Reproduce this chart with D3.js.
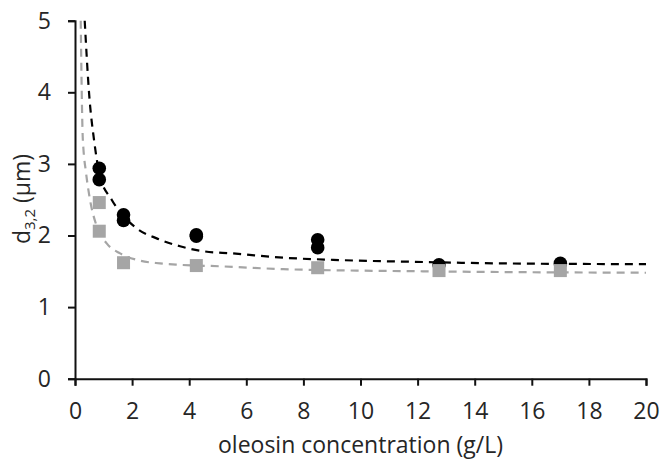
<!DOCTYPE html>
<html lang="en">
<head>
    <meta charset="UTF-8">
    <title>d32 vs oleosin</title>
    <style>
        body { margin: 0; background: #fff; }
        svg text { font-family: "Open Sans", "Noto Sans", sans-serif; fill: #262626; }
    </style>
</head>
<body>
<div id="container"></div>
<script src="https://cdn.jsdelivr.net/npm/d3@7"></script>
<script>
    // measured points (oleosin g/L -> d3,2 um)
    const circleX = [0.85, 0.85, 1.7, 1.7, 4.25, 4.25, 8.5, 8.5, 12.75, 17]
    const circleY = [2.94, 2.78, 2.29, 2.21, 2.01, 1.99, 1.94, 1.83, 1.59, 1.61]
    const squareX = [0.85, 0.85, 1.7, 4.25, 8.5, 12.75, 17]
    const squareY = [2.46, 2.06, 1.62, 1.58, 1.55, 1.51, 1.51]

    // fitted trend lines
    const blackFitX = [0.34, 0.5, 0.665, 0.876, 1.285, 2.16, 2.86, 3.68, 4.49, 5.53, 7.29, 9.04, 12.19, 15, 20]
    const blackFitY = [5.0, 3.95, 3.34, 2.83, 2.50, 2.10, 1.96, 1.85, 1.78, 1.75, 1.69, 1.66, 1.63, 1.61, 1.60]
    const grayFitX = [0.2, 0.27, 0.29, 0.385, 0.525, 0.76, 1.11, 1.58, 2.16, 2.98, 3.68, 5.08, 7.29, 12.19, 20]
    const grayFitY = [5.0, 3.38, 3.24, 2.88, 2.50, 2.13, 1.89, 1.75, 1.66, 1.61, 1.59, 1.57, 1.53, 1.50, 1.48]

    const xTicks = [0, 2, 4, 6, 8, 10, 12, 14, 16, 18, 20]
    const yTicks = [0, 1, 2, 3, 4, 5]

    const width = 662
    const height = 459
    const plotLeft = 75, plotRight = 646, plotTop = 20.7, plotBottom = 378.7

    const gray = '#a5a5a5'
    const black = '#000000'
    const fontSize = '23px'

    const svg = d3.select('#container').append('svg')
        .attr('width', width)
        .attr('height', height)

    const x = d3.scaleLinear().domain([0, 20]).range([plotLeft, plotRight])
    const y = d3.scaleLinear().domain([0, 5]).range([plotBottom, plotTop])

    svg.append('defs').append('clipPath').attr('id', 'plot-clip')
        .append('rect')
        .attr('x', plotLeft).attr('y', plotTop - 2)
        .attr('width', plotRight - plotLeft).attr('height', plotBottom - plotTop + 2)

    // axes
    const xAxis = svg.append('g')
        .attr('transform', `translate(0,${plotBottom})`)
        .call(d3.axisBottom(x).tickValues(xTicks).tickFormat(d3.format('d'))
            .tickSize(7).tickSizeOuter(7).tickPadding(17))
    const yAxis = svg.append('g')
        .attr('transform', `translate(${plotLeft},0)`)
        .call(d3.axisLeft(y).tickValues(yTicks).tickFormat(d3.format('d'))
            .tickSize(7).tickSizeOuter(7).tickPadding(17))

    for (const ax of [xAxis, yAxis]) {
        ax.attr('font-size', null).attr('font-family', null)
        ax.select('.domain').attr('stroke', '#111').attr('stroke-width', 2)
        ax.selectAll('.tick line').attr('stroke', '#111').attr('stroke-width', 2)
        ax.selectAll('.tick text').style('font-size', fontSize).attr('fill', '#262626')
    }

    // trend lines
    const lineGen = d3.line().x(d => x(d[0])).y(d => y(d[1])).curve(d3.curveMonotoneX)
    const plot = svg.append('g').attr('clip-path', 'url(#plot-clip)')

    plot.append('path')
        .datum(d3.zip(grayFitX, grayFitY))
        .attr('d', lineGen)
        .attr('fill', 'none')
        .attr('stroke', gray)
        .attr('stroke-width', 2.2)
        .attr('stroke-dasharray', '8,6')

    plot.append('path')
        .datum(d3.zip(blackFitX, blackFitY))
        .attr('d', lineGen)
        .attr('fill', 'none')
        .attr('stroke', black)
        .attr('stroke-width', 2.2)
        .attr('stroke-dasharray', '8,6')

    // markers
    svg.append('g')
        .selectAll('circle')
        .data(d3.zip(circleX, circleY))
        .enter()
        .append('circle')
        .attr('cx', d => x(d[0]))
        .attr('cy', d => y(d[1]))
        .attr('r', 6.8)
        .attr('fill', black)

    const sq = 13
    svg.append('g')
        .selectAll('rect')
        .data(d3.zip(squareX, squareY))
        .enter()
        .append('rect')
        .attr('x', d => x(d[0]) - sq / 2)
        .attr('y', d => y(d[1]) - sq / 2)
        .attr('width', sq)
        .attr('height', sq)
        .attr('fill', gray)

    // axis titles
    svg.append('text')
        .attr('x', (plotLeft + plotRight) / 2)
        .attr('y', 453)
        .attr('text-anchor', 'middle')
        .style('font-size', fontSize)
        .text('oleosin concentration (g/L)')

    const yTitle = svg.append('text')
        .attr('transform', `translate(30,199) rotate(-90)`)
        .attr('text-anchor', 'middle')
        .style('font-size', fontSize)
    yTitle.append('tspan').text('d')
    yTitle.append('tspan').style('font-size', '15px').attr('dy', 5).text('3,2')
    yTitle.append('tspan').attr('dy', -5).text(' (µm)')
</script>
</body>
</html>
